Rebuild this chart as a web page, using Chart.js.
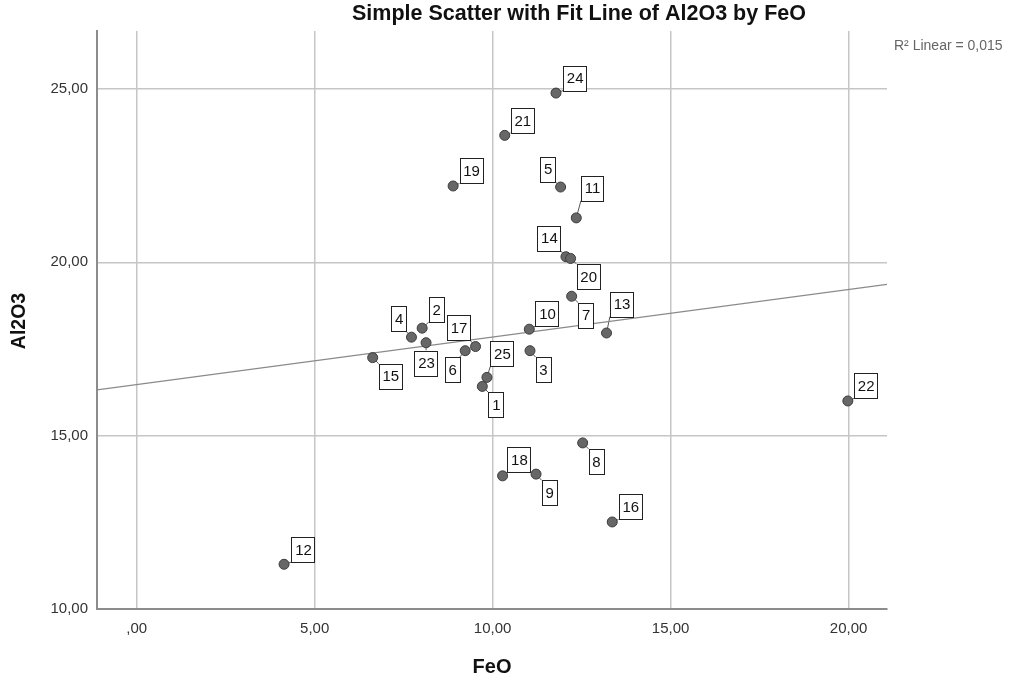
<!DOCTYPE html>
<html>
<head>
<meta charset="utf-8">
<script src="https://cdn.jsdelivr.net/npm/chart.js@4/dist/chart.umd.min.js"></script>
<style>
html,body{margin:0;padding:0;background:#fff;}
#wrap{width:1018px;height:684px;}
</style>
</head>
<body>
<div id="wrap"><canvas id="c" width="1018" height="684"></canvas></div>
<script>
// ---- data ----
const caseIds = [1,2,3,4,5,6,7,8,9,10,11,12,13,14,15,16,17,18,19,20,21,22,23,24,25];
const feo   = [9.71, 8.02, 11.05, 7.72, 11.91, 9.23, 12.22, 12.53, 11.22, 11.03, 12.35, 4.14, 13.20, 12.06, 6.63, 13.36, 9.52, 10.28, 8.89, 12.19, 10.34, 19.98, 8.13, 11.78, 9.84];
const al2o3 = [16.42, 18.10, 17.45, 17.84, 22.17, 17.45, 19.02, 14.79, 13.89, 18.07, 21.28, 11.29, 17.96, 20.16, 17.25, 12.51, 17.57, 13.84, 22.20, 20.11, 23.66, 16.00, 17.68, 24.88, 16.68];
const fitX = [-1.115, 21.08];
const fitY = [16.32, 19.36];
const xTickValues = [0, 5, 10, 15, 20];
const xTickLabels = [',00', '5,00', '10,00', '15,00', '20,00'];
const yTickValues = [10, 15, 20, 25];
const yTickLabels = ['10,00', '15,00', '20,00', '25,00'];
const chartTitle = 'Simple Scatter with Fit Line of Al2O3 by FeO';
const xTitle = 'FeO';
const yTitle = 'Al2O3';
const fitNote = 'R\u00B2 Linear = 0,015';

// ---- label placement (layout only) ----
const labelOffsets = [
  [13.5,18.5],[14,-18.5],[13,19],[-12.7,-18.3],[-13,-18],[-13,19],[14,19],[13.3,18.5],[13,18.7],[17.7,-15.5],
  [15.7,-29.7],[19,-14.6],[15,-29],[-17,-18.5],[17.6,18.6],[18,-15],[-17,-18.7],[16.3,-16],[18,-15],[17.6,18],
  [17.5,-15],[17.8,-15],[0,20.3],[18.7,-15],[15,-23.5]
];

const FONT = '"Liberation Sans", Arial, sans-serif';

function boxRect(ctx, meta, i) {
  const pt = meta.data[i];
  const txt = String(caseIds[i]);
  ctx.font = '15px ' + FONT;
  const w = ctx.measureText(txt).width + 6.5;
  const h = 25;
  const cx = pt.x + labelOffsets[i][0];
  const cy = pt.y + labelOffsets[i][1];
  return {x: cx - w/2, y: cy - h/2, w, h, cx, cy, txt, px: pt.x, py: pt.y};
}

const labelPlugin = {
  id: 'caseLabels',
  beforeDatasetsDraw(chart) {
    const ctx = chart.ctx;
    const meta = chart.getDatasetMeta(1);
    ctx.save();
    ctx.strokeStyle = '#555';
    ctx.lineWidth = 1;
    for (let i = 0; i < caseIds.length; i++) {
      const r = boxRect(ctx, meta, i);
      const nx = Math.max(r.x, Math.min(r.px, r.x + r.w));
      const ny = Math.max(r.y, Math.min(r.py, r.y + r.h));
      ctx.beginPath();
      ctx.moveTo(r.px, r.py);
      ctx.lineTo(nx, ny);
      ctx.stroke();
    }
    ctx.restore();
  },
  afterDatasetsDraw(chart) {
    const ctx = chart.ctx;
    const meta = chart.getDatasetMeta(1);
    ctx.save();
    for (let i = 0; i < caseIds.length; i++) {
      const r = boxRect(ctx, meta, i);
      ctx.fillStyle = '#fff';
      ctx.fillRect(r.x, r.y, r.w, r.h);
      ctx.strokeStyle = '#222';
      ctx.lineWidth = 1;
      ctx.strokeRect(Math.round(r.x) + 0.5, Math.round(r.y) + 0.5, Math.round(r.w), Math.round(r.h));
      ctx.fillStyle = '#111';
      ctx.font = '15px ' + FONT;
      ctx.textAlign = 'center';
      ctx.textBaseline = 'middle';
      ctx.fillText(r.txt, r.cx + 0.5, r.cy + 1);
    }
    ctx.restore();
  }
};

const textPlugin = {
  id: 'texts',
  afterDraw(chart) {
    const ctx = chart.ctx;
    ctx.save();
    ctx.fillStyle = '#111';
    ctx.textBaseline = 'middle';
    ctx.textAlign = 'center';
    ctx.font = 'bold 21.5px ' + FONT;
    ctx.fillText(chartTitle, 579, 14);
    ctx.font = 'bold 20px ' + FONT;
    ctx.fillText(xTitle, 492, 667);
    ctx.save();
    ctx.translate(20, 321);
    ctx.rotate(-Math.PI / 2);
    ctx.font = 'bold 19.5px ' + FONT;
    ctx.fillText(yTitle, 0, 0);
    ctx.restore();
    ctx.textAlign = 'left';
    ctx.fillStyle = '#666';
    ctx.font = '14px ' + FONT;
    ctx.fillText(fitNote, 894, 46);
    ctx.restore();
  }
};

const ctx = document.getElementById('c').getContext('2d');
new Chart(ctx, {
  data: {
    datasets: [
      {
        type: 'line',
        data: fitX.map((x, i) => ({x, y: fitY[i]})),
        borderColor: '#8a8a8a',
        borderWidth: 1.2,
        pointRadius: 0,
        fill: false,
        tension: 0,
        order: 2
      },
      {
        type: 'scatter',
        data: feo.map((x, i) => ({x, y: al2o3[i]})),
        backgroundColor: '#676767',
        borderColor: '#3c3c3c',
        borderWidth: 1,
        pointRadius: 5,
        order: 1
      }
    ]
  },
  options: {
    responsive: false,
    animation: false,
    devicePixelRatio: 1,
    layout: {padding: {left: 0, top: 31, right: 131, bottom: 0}},
    plugins: {
      legend: {display: false},
      tooltip: {enabled: false},
      title: {display: false}
    },
    scales: {
      x: {
        type: 'linear',
        min: fitX[0],
        max: fitX[1],
        afterBuildTicks(scale) { scale.ticks = xTickValues.map(v => ({value: v})); },
        afterFit(scale) { scale.height = 75; },
        ticks: {
          callback(v) { const k = xTickValues.indexOf(v); return k >= 0 ? xTickLabels[k] : ''; },
          font: {family: FONT, size: 15},
          color: '#333',
          padding: 11,
          maxRotation: 0,
          autoSkip: false
        },
        grid: {color: '#c6c6c6', lineWidth: 1.5, drawTicks: false},
        border: {display: true, color: '#8c8c8c', width: 2}
      },
      y: {
        type: 'linear',
        min: 10,
        max: 26.67,
        afterBuildTicks(scale) { scale.ticks = yTickValues.map(v => ({value: v})); },
        afterFit(scale) { scale.width = 97; },
        ticks: {
          callback(v) { const k = yTickValues.indexOf(v); return k >= 0 ? yTickLabels[k] : ''; },
          font: {family: FONT, size: 15},
          color: '#333',
          padding: 9,
          autoSkip: false
        },
        grid: {color: '#c6c6c6', lineWidth: 1.5, drawTicks: false},
        border: {display: true, color: '#8c8c8c', width: 2}
      }
    }
  },
  plugins: [labelPlugin, textPlugin]
});
</script>
</body>
</html>
